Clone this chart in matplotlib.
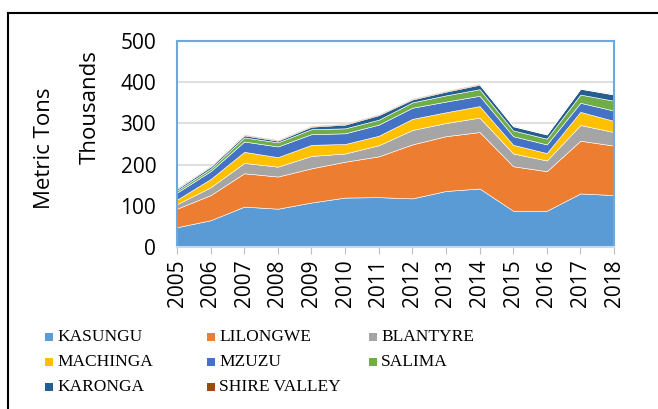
import matplotlib.pyplot as plt
from matplotlib.lines import Line2D

# values in thousands of metric tons
years = [2005, 2006, 2007, 2008, 2009, 2010, 2011, 2012, 2013, 2014, 2015, 2016, 2017, 2018]
kasungu = [48, 65, 98, 93, 108, 120, 121, 118, 136, 142, 88, 88, 130, 126]
lilongwe = [45, 61, 81, 78, 83, 87, 99, 131, 133, 137, 108, 96, 128, 120]
blantyre = [11, 19, 25, 24, 30, 20, 27, 35, 32, 35, 31, 26, 38, 33]
machinga = [11, 20, 27, 23, 27, 23, 23, 27, 26, 28, 21, 18, 32, 27]
mzuzu = [17, 19, 25, 26, 26, 26, 27, 27, 26, 25, 21, 21, 22, 25]
salima = [5, 6, 10, 10, 12, 12, 12, 13, 15, 16, 14, 14, 20, 24]
karonga = [4, 5, 5, 4, 6, 9, 11, 7, 9, 11, 10, 10, 14, 15]
shire_valley = [2, 2, 2, 2, 2, 2, 2, 2, 2, 2, 1, 1, 1, 1]

names = ['KASUNGU', 'LILONGWE', 'BLANTYRE', 'MACHINGA', 'MZUZU', 'SALIMA', 'KARONGA', 'SHIRE VALLEY']
colors = ['#5B9BD5', '#ED7D31', '#A5A5A5', '#FFC000', '#4472C4', '#70AD47', '#255E91', '#9E480E']
series = [kasungu, lilongwe, blantyre, machinga, mzuzu, salima, karonga, shire_valley]
yticks = [0, 100, 200, 300, 400, 500]

sans = ['Open Sans', 'DejaVu Sans']

fig = plt.figure(figsize=(6.58, 4.09), dpi=100)
ax = fig.add_axes([177 / 658, 1 - 247 / 409, (614 - 177) / 658, (247 - 41) / 409])

ax.stackplot(years, *series, colors=colors, edgecolor='#ffffff', linewidth=0.4, zorder=2)

ax.set_xlim(2005, 2018)
ax.set_ylim(0, 500)
ax.set_yticks(yticks)
ax.set_xticks(years)
ax.set_xticklabels([str(y) for y in years], rotation=90, family=sans, fontsize=15)
ax.set_yticklabels([str(v) for v in yticks], family=sans, fontsize=15)
ax.tick_params(axis='y', length=0, pad=15)
ax.tick_params(axis='x', length=5, color='#bfbfbf', pad=4)
ax.grid(axis='y', color='#d9d9d9', linewidth=1.2, zorder=1)
ax.set_axisbelow(True)
for s in ax.spines.values():
    s.set_color('#6FA8DC')
    s.set_linewidth(1.5)
    s.set_zorder(3)
ax.spines['bottom'].set_color('#c9d9ea')

fig.text(90 / 658, 1 - 107 / 409, 'Thousands', rotation=90, ha='center', va='center',
         family=sans, fontsize=16)
fig.text(45 / 658, 1 - 148 / 409, 'Metric Tons', rotation=90, ha='center', va='center',
         family=sans, fontsize=16)

# legend, 3 columns filled row by row
col_x = [45, 207, 369]
row_y = [337, 362, 387]
for i, (c, n) in enumerate(zip(colors, names)):
    cx = col_x[i % 3]
    cy = row_y[i // 3]
    fig.patches.append(plt.Rectangle((cx / 658, 1 - (cy + 4) / 409), 8 / 658, 8 / 409,
                                     facecolor=c, edgecolor='none', transform=fig.transFigure))
    fig.text((cx + 12) / 658, 1 - cy / 409, n, ha='left', va='center',
             family=['Liberation Serif'], fontsize=12.5)

# outer frame (top and left edges)
fig.add_artist(Line2D([8 / 658, 1], [1 - 13 / 409, 1 - 13 / 409], color='black', linewidth=1.5,
                      transform=fig.transFigure))
fig.add_artist(Line2D([8 / 658, 8 / 658], [1 - 13 / 409, 0], color='black', linewidth=1.5,
                      transform=fig.transFigure))

fig.savefig('out.png', dpi=100)
